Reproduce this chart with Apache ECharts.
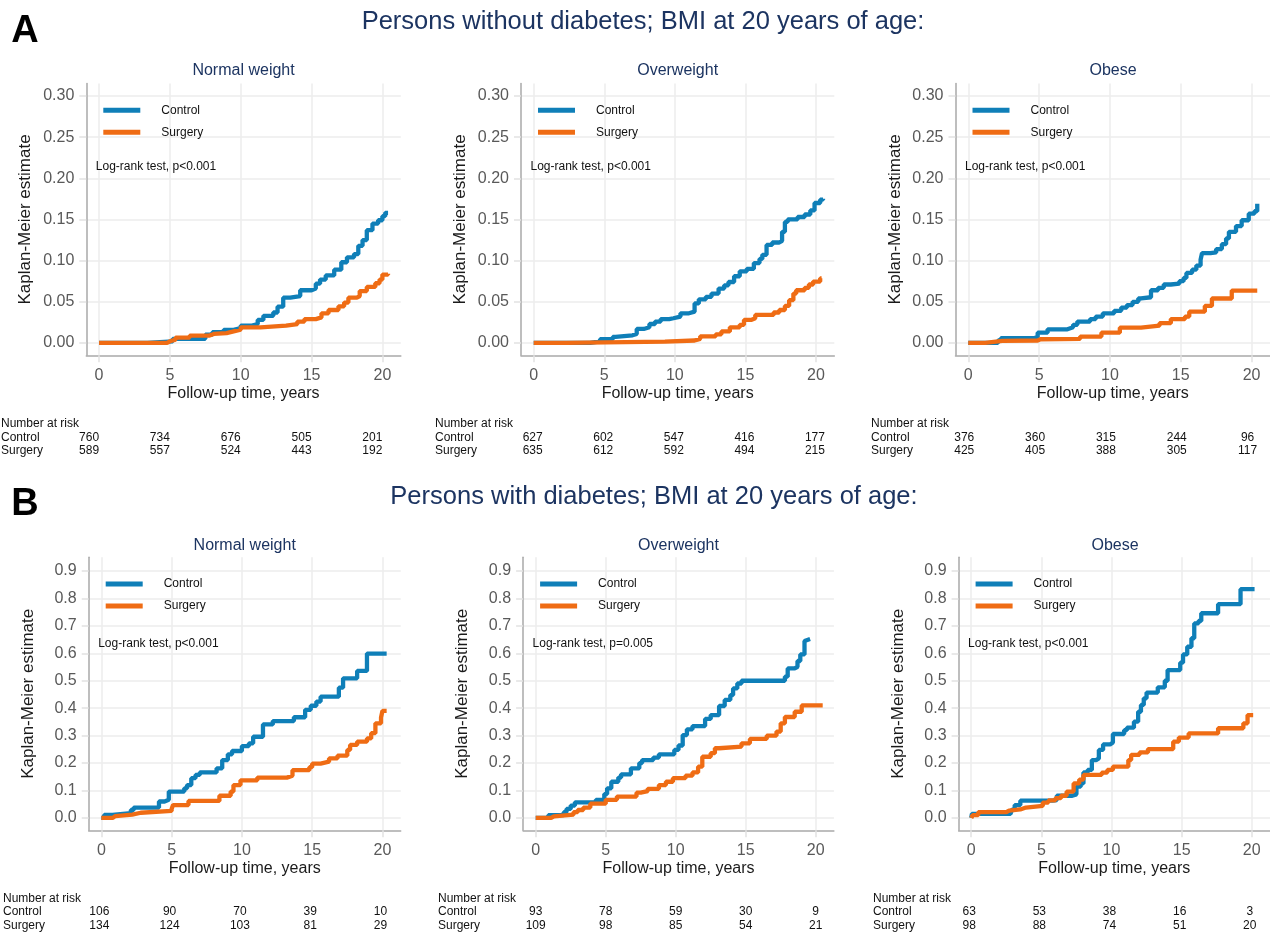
<!DOCTYPE html>
<html>
<head>
<meta charset="utf-8">
<script src="https://cdn.jsdelivr.net/npm/echarts@6/dist/echarts.min.js"></script>
<style>
  html, body { margin: 0; padding: 0; background: #ffffff; }
  #chart { width: 1270px; height: 935px; }
</style>
</head>
<body>
<div id="chart"></div>
<script>
// ---------- data ----------
const xTicks = [0, 5, 10, 15, 20];
const yTicksNoDm = [0, 0.05, 0.10, 0.15, 0.20, 0.25, 0.30];
const yTicksDm = [0, 0.1, 0.2, 0.3, 0.4, 0.5, 0.6, 0.7, 0.8, 0.9];

const rowTitles = ['Persons without diabetes; BMI at 20 years of age:', 'Persons with diabetes; BMI at 20 years of age:'];
const rowLetters = ['A', 'B'];
const panelTitles = ['Normal weight', 'Overweight', 'Obese'];
const groupNames = ['Control', 'Surgery'];
const logRankText = ['Log-rank test, p<0.001', 'Log-rank test, p<0.001', 'Log-rank test, p<0.001',
                     'Log-rank test, p<0.001', 'Log-rank test, p=0.005', 'Log-rank test, p<0.001'];

// Kaplan-Meier cumulative incidence: [follow-up years, estimate]
const noDmNormalControl = [[0,0],[3.4,0.002],[5.2,0.005],[7.5,0.010],[8.0,0.013],[8.8,0.016],[9.5,0.018],[10.0,0.021],[10.8,0.023],[11.2,0.028],[11.6,0.033],[12.3,0.037],[12.6,0.044],[13.0,0.055],[13.5,0.057],[14.2,0.064],[15.0,0.066],[15.3,0.072],[15.6,0.077],[16.0,0.082],[16.6,0.089],[17.1,0.098],[17.5,0.104],[18.0,0.108],[18.3,0.118],[18.6,0.125],[18.9,0.137],[19.3,0.145],[19.7,0.149],[20.0,0.154],[20.2,0.158],[20.4,0.158]];
const noDmNormalSurgery = [[0,0],[4.8,0.002],[5.0,0.004],[5.4,0.0065],[6.4,0.009],[7.8,0.011],[8.1,0.012],[9.0,0.014],[9.5,0.016],[10.0,0.019],[11.4,0.021],[13.2,0.023],[14.0,0.026],[14.5,0.029],[15.3,0.031],[15.7,0.036],[16.2,0.040],[16.9,0.0445],[17.3,0.049],[17.6,0.055],[18.2,0.057],[18.4,0.063],[18.9,0.068],[19.5,0.0725],[19.8,0.077],[20.0,0.083],[20.4,0.084]];
const noDmOverControl = [[0,0],[4.0,0.002],[4.7,0.0045],[5.6,0.0073],[5.8,0.0093],[7.0,0.011],[7.3,0.017],[7.8,0.019],[8.2,0.023],[8.6,0.026],[9.0,0.029],[9.6,0.030],[9.9,0.032],[10.4,0.036],[11.0,0.038],[11.4,0.048],[11.7,0.053],[12.2,0.056],[12.6,0.060],[13.1,0.066],[13.5,0.070],[13.8,0.074],[14.2,0.081],[14.6,0.087],[15.1,0.090],[15.6,0.097],[16.0,0.102],[16.2,0.107],[16.5,0.119],[16.9,0.122],[17.4,0.124],[17.6,0.135],[17.8,0.147],[18.0,0.150],[18.7,0.153],[19.2,0.156],[19.6,0.161],[19.9,0.170],[20.3,0.174],[20.5,0.175]];
const noDmOverSurgery = [[0,0],[2.3,0.0016],[9.3,0.003],[11.4,0.005],[11.8,0.008],[12.9,0.0105],[13.3,0.014],[13.9,0.019],[14.6,0.022],[14.9,0.028],[15.4,0.030],[15.7,0.034],[17.0,0.037],[17.4,0.040],[17.8,0.045],[18.1,0.052],[18.4,0.060],[18.6,0.064],[19.2,0.067],[19.5,0.071],[19.8,0.0745],[20.3,0.0785],[20.4,0.0785]];
const noDmObeseControl = [[0,0],[2.1,0.003],[2.3,0.0057],[4.6,0.007],[4.9,0.0125],[5.6,0.0166],[7.0,0.019],[7.4,0.022],[7.7,0.026],[8.6,0.029],[9.0,0.032],[9.5,0.036],[10.3,0.039],[10.8,0.043],[11.2,0.046],[11.6,0.050],[12.0,0.054],[12.2,0.0555],[12.9,0.064],[13.4,0.067],[13.8,0.071],[14.3,0.072],[14.9,0.075],[15.2,0.079],[15.4,0.085],[15.8,0.089],[16.1,0.094],[16.4,0.101],[16.5,0.109],[17.1,0.110],[17.5,0.114],[17.9,0.120],[18.2,0.127],[18.4,0.135],[18.9,0.142],[19.3,0.149],[19.8,0.157],[20.2,0.160],[20.4,0.169]];
const noDmObeseSurgery = [[0,0],[1.2,0.0024],[2.4,0.003],[4.9,0.0045],[5.1,0.005],[7.9,0.0077],[9.4,0.0125],[10.7,0.0186],[12.2,0.021],[13.5,0.024],[14.3,0.029],[15.3,0.032],[15.6,0.038],[16.7,0.045],[17.2,0.054],[18.6,0.0636],[20.4,0.0636]];
const dmNormalControl = [[0,0],[0.2,0.011],[0.8,0.018],[2.1,0.029],[2.3,0.038],[4.1,0.060],[4.5,0.066],[4.8,0.096],[5.9,0.108],[6.1,0.120],[6.4,0.145],[6.7,0.157],[7.0,0.166],[8.2,0.181],[8.6,0.211],[9.0,0.232],[9.3,0.244],[10.0,0.262],[10.5,0.272],[10.8,0.296],[11.5,0.341],[12.2,0.353],[13.7,0.367],[14.5,0.394],[14.9,0.409],[15.3,0.424],[15.6,0.442],[16.9,0.475],[17.2,0.509],[18.2,0.536],[18.9,0.599],[20.3,0.599]];
const dmNormalSurgery = [[0,0],[0.8,0.007],[1.0,0.012],[2.2,0.019],[2.8,0.0255],[5.0,0.033],[5.1,0.047],[6.2,0.062],[8.4,0.081],[9.2,0.096],[9.4,0.120],[9.9,0.137],[11.1,0.147],[13.2,0.154],[13.6,0.174],[14.8,0.185],[15.0,0.198],[15.6,0.205],[16.2,0.217],[16.8,0.227],[17.5,0.248],[17.7,0.266],[18.2,0.278],[18.9,0.290],[19.2,0.309],[19.5,0.345],[19.9,0.366],[20.0,0.390],[20.3,0.390]];
const dmOverControl = [[0,0],[0.9,0.010],[2.0,0.021],[2.2,0.033],[2.5,0.045],[2.8,0.057],[4.3,0.066],[4.9,0.087],[5.1,0.108],[5.4,0.132],[5.9,0.147],[6.1,0.159],[6.8,0.181],[7.4,0.200],[7.6,0.211],[8.4,0.220],[8.8,0.232],[9.9,0.248],[10.2,0.264],[10.5,0.302],[10.8,0.323],[11.2,0.335],[12.1,0.361],[12.5,0.375],[13.1,0.408],[13.5,0.430],[13.9,0.448],[14.1,0.472],[14.4,0.490],[14.7,0.500],[17.8,0.515],[18.0,0.545],[18.5,0.551],[18.7,0.572],[18.9,0.596],[19.2,0.645],[19.3,0.652],[19.6,0.652]];
const dmOverSurgery = [[0,0],[1.1,0.006],[1.3,0.012],[2.7,0.021],[3.0,0.029],[3.4,0.038],[3.9,0.052],[5.0,0.066],[5.8,0.078],[7.2,0.092],[7.5,0.098],[8.0,0.106],[8.8,0.120],[9.3,0.132],[9.8,0.145],[10.7,0.154],[11.2,0.166],[11.6,0.187],[11.9,0.223],[12.5,0.236],[12.8,0.254],[13.1,0.260],[14.7,0.272],[15.3,0.288],[16.5,0.300],[17.2,0.315],[17.5,0.345],[17.8,0.368],[18.5,0.387],[19.0,0.410],[20.5,0.410]];
const dmObeseControl = [[0,0],[0.05,0.015],[2.8,0.021],[2.9,0.030],[3.1,0.047],[3.5,0.063],[5.8,0.065],[6.1,0.081],[7.2,0.086],[7.5,0.114],[7.8,0.126],[8.0,0.166],[8.3,0.175],[8.6,0.211],[8.9,0.217],[9.1,0.248],[9.4,0.268],[9.9,0.275],[10.1,0.306],[10.9,0.320],[11.1,0.329],[11.6,0.351],[11.9,0.387],[12.1,0.412],[12.3,0.436],[12.5,0.457],[13.3,0.476],[13.8,0.500],[14.0,0.539],[14.9,0.566],[15.1,0.596],[15.4,0.624],[15.7,0.655],[15.9,0.709],[16.2,0.718],[16.4,0.746],[17.6,0.779],[19.2,0.834],[20.2,0.834]];
const dmObeseSurgery = [[0,0],[0.05,0.005],[0.1,0.010],[0.5,0.021],[2.5,0.027],[2.7,0.031],[3.5,0.038],[3.9,0.044],[5.1,0.056],[5.5,0.064],[6.0,0.072],[6.4,0.081],[6.8,0.096],[7.3,0.126],[7.7,0.140],[8.0,0.157],[9.3,0.165],[9.7,0.175],[10.1,0.187],[11.2,0.211],[11.4,0.230],[12.0,0.239],[12.6,0.251],[14.4,0.278],[14.8,0.293],[15.5,0.308],[17.6,0.327],[19.4,0.345],[19.7,0.375],[20.1,0.375]];

// Numbers at risk at 0, 5, 10, 15, 20 years
const riskNoDmNormalControl = [760, 734, 676, 505, 201];
const riskNoDmNormalSurgery = [589, 557, 524, 443, 192];
const riskNoDmOverControl = [627, 602, 547, 416, 177];
const riskNoDmOverSurgery = [635, 612, 592, 494, 215];
const riskNoDmObeseControl = [376, 360, 315, 244, 96];
const riskNoDmObeseSurgery = [425, 405, 388, 305, 117];
const riskDmNormalControl = [106, 90, 70, 39, 10];
const riskDmNormalSurgery = [134, 124, 103, 81, 29];
const riskDmOverControl = [93, 78, 59, 30, 9];
const riskDmOverSurgery = [109, 98, 85, 54, 21];
const riskDmObeseControl = [63, 53, 38, 16, 3];
const riskDmObeseSurgery = [98, 88, 74, 51, 20];

// ---------- layout & style ----------
const FONT = '"Liberation Sans", Arial, Helvetica, sans-serif';
const BLUE = '#0f7fb8';
const ORANGE = '#ef6c14';
const NAVY = '#1c3461';

const rows = [
  { yMin: -0.015, yMax: 0.315, ticks: yTicksNoDm, decimals: 2, titleX: 643, titleY: 22, letterY: 32, subY: 71, tableY: [424, 437.5, 451] },
  { yMin: -0.045, yMax: 0.95, ticks: yTicksDm, decimals: 1, titleX: 654, titleY: 497, letterY: 505, subY: 546, tableY: [898.5, 912, 926] }
];

const panels = [
  { row: 0, col: 0, curves: [noDmNormalControl, noDmNormalSurgery], risk: [riskNoDmNormalControl, riskNoDmNormalSurgery], grid: { left: 86.3, top: 83.6, width: 314.5, height: 271.7 }, tableX: 1, shift: -10 },
  { row: 0, col: 1, curves: [noDmOverControl, noDmOverSurgery], risk: [riskNoDmOverControl, riskNoDmOverSurgery], grid: { left: 521, top: 83.6, width: 313.3, height: 271.7 }, tableX: 435, shift: -1 },
  { row: 0, col: 2, curves: [noDmObeseControl, noDmObeseSurgery], risk: [riskNoDmObeseControl, riskNoDmObeseSurgery], grid: { left: 955.5, top: 83.6, width: 315, height: 271.7 }, tableX: 871, shift: -4 },
  { row: 1, col: 0, curves: [dmNormalControl, dmNormalSurgery], risk: [riskDmNormalControl, riskDmNormalSurgery], grid: { left: 88.7, top: 557.3, width: 312, height: 273 }, tableX: 3, shift: -2 },
  { row: 1, col: 1, curves: [dmOverControl, dmOverSurgery], risk: [riskDmOverControl, riskDmOverSurgery], grid: { left: 523.1, top: 557.3, width: 310.8, height: 273 }, tableX: 438, shift: 0 },
  { row: 1, col: 2, curves: [dmObeseControl, dmObeseSurgery], risk: [riskDmObeseControl, riskDmObeseSurgery], grid: { left: 958.6, top: 557.3, width: 313, height: 273 }, tableX: 873, shift: -2 }
];

const chart = echarts.init(document.getElementById('chart'), null, { renderer: 'canvas' });

const grids = [], xAxes = [], yAxes = [], series = [], legends = [];
panels.forEach((p, i) => {
  const r = rows[p.row];
  grids.push(Object.assign({ containLabel: false }, p.grid));
  xAxes.push({
    type: 'value', gridIndex: i, min: -0.9, max: 21.3,
    name: 'Follow-up time, years', nameLocation: 'middle', nameGap: 30,
    nameTextStyle: { fontSize: 16, color: '#1a1a1a', fontFamily: FONT },
    axisLine: { onZero: false, lineStyle: { color: '#a9a9a9', width: 1.5 } },
    axisTick: { customValues: xTicks, length: 7, lineStyle: { color: '#e2e2e2', width: 1.5 } },
    axisLabel: { customValues: xTicks, margin: 12, fontSize: 16, color: '#595959', fontFamily: FONT },
    splitLine: { show: true, lineStyle: { color: '#ececec', width: 1.5 } }
  });
  yAxes.push({
    type: 'value', gridIndex: i, min: r.yMin, max: r.yMax,
    name: 'Kaplan-Meier estimate', nameLocation: 'middle', nameGap: 52,
    nameTextStyle: { fontSize: 17, color: '#1a1a1a', fontFamily: FONT },
    axisLine: { show: true, onZero: false, lineStyle: { color: '#a9a9a9', width: 1.5 } },
    axisTick: { show: true, customValues: r.ticks, length: 7, lineStyle: { color: '#e2e2e2', width: 1.5 } },
    axisLabel: { customValues: r.ticks, margin: 12, fontSize: 16, color: '#595959', fontFamily: FONT,
                 formatter: v => Number(v).toFixed(r.decimals) },
    splitLine: { show: true, lineStyle: { color: '#ececec', width: 1.5 } }
  });
  [BLUE, ORANGE].forEach((c, k) => {
    series.push({
      type: 'line', name: groupNames[k], xAxisIndex: i, yAxisIndex: i,
      data: p.curves[k], step: 'end', symbol: 'none', showSymbol: false,
      lineStyle: { color: c, width: 4.3, cap: 'butt' }, itemStyle: { color: c },
      z: 2 + k, animation: false
    });
  });
  legends.push({
    orient: 'vertical', left: p.grid.left + 17, top: p.grid.top + 18.6,
    itemWidth: 37, itemHeight: 5, itemGap: 6, padding: 0, icon: 'rect',
    selectedMode: false, data: groupNames,
    textStyle: { fontSize: 12, color: '#111', lineHeight: 16, padding: [0, 0, 0, 16], fontFamily: FONT }
  });
});

chart.setOption({
  animation: false,
  backgroundColor: '#ffffff',
  textStyle: { fontFamily: FONT },
  grid: grids, xAxis: xAxes, yAxis: yAxes, series: series, legend: legends
});

// ---------- text annotations ----------
function txt(x, y, str, o) {
  return {
    type: 'text', x: x, y: y, silent: true,
    style: Object.assign({ text: str, fontFamily: FONT, fontSize: 12, fill: '#111', align: 'left', verticalAlign: 'middle' }, o || {})
  };
}

const g = [];
rows.forEach((r, ri) => {
  g.push(txt(r.titleX, r.titleY, rowTitles[ri], { fontSize: 25.5, fill: NAVY, align: 'center' }));
  g.push(txt(25, r.letterY, rowLetters[ri], { fontSize: 38, fontWeight: 'bold', fill: '#000', align: 'center' }));
});
panels.forEach((p, i) => {
  const r = rows[p.row];
  g.push(txt(p.grid.left + p.grid.width / 2, r.subY, panelTitles[p.col], { fontSize: 16, fill: NAVY, align: 'center' }));
  g.push(txt(p.grid.left + 9.5, p.grid.top + (p.row === 0 ? 83 : 86), logRankText[i], { fontSize: 12 }));
  g.push(txt(p.tableX, r.tableY[0], 'Number at risk', { fontSize: 12 }));
  groupNames.forEach((name, k) => {
    g.push(txt(p.tableX, r.tableY[k + 1], name, { fontSize: 12 }));
    p.risk[k].forEach((n, j) => {
      const px = chart.convertToPixel({ xAxisIndex: i }, xTicks[j]);
      g.push(txt(px + p.shift, r.tableY[k + 1], String(n), { fontSize: 12, align: 'center' }));
    });
  });
});
chart.setOption({ graphic: g });
</script>
</body>
</html>
